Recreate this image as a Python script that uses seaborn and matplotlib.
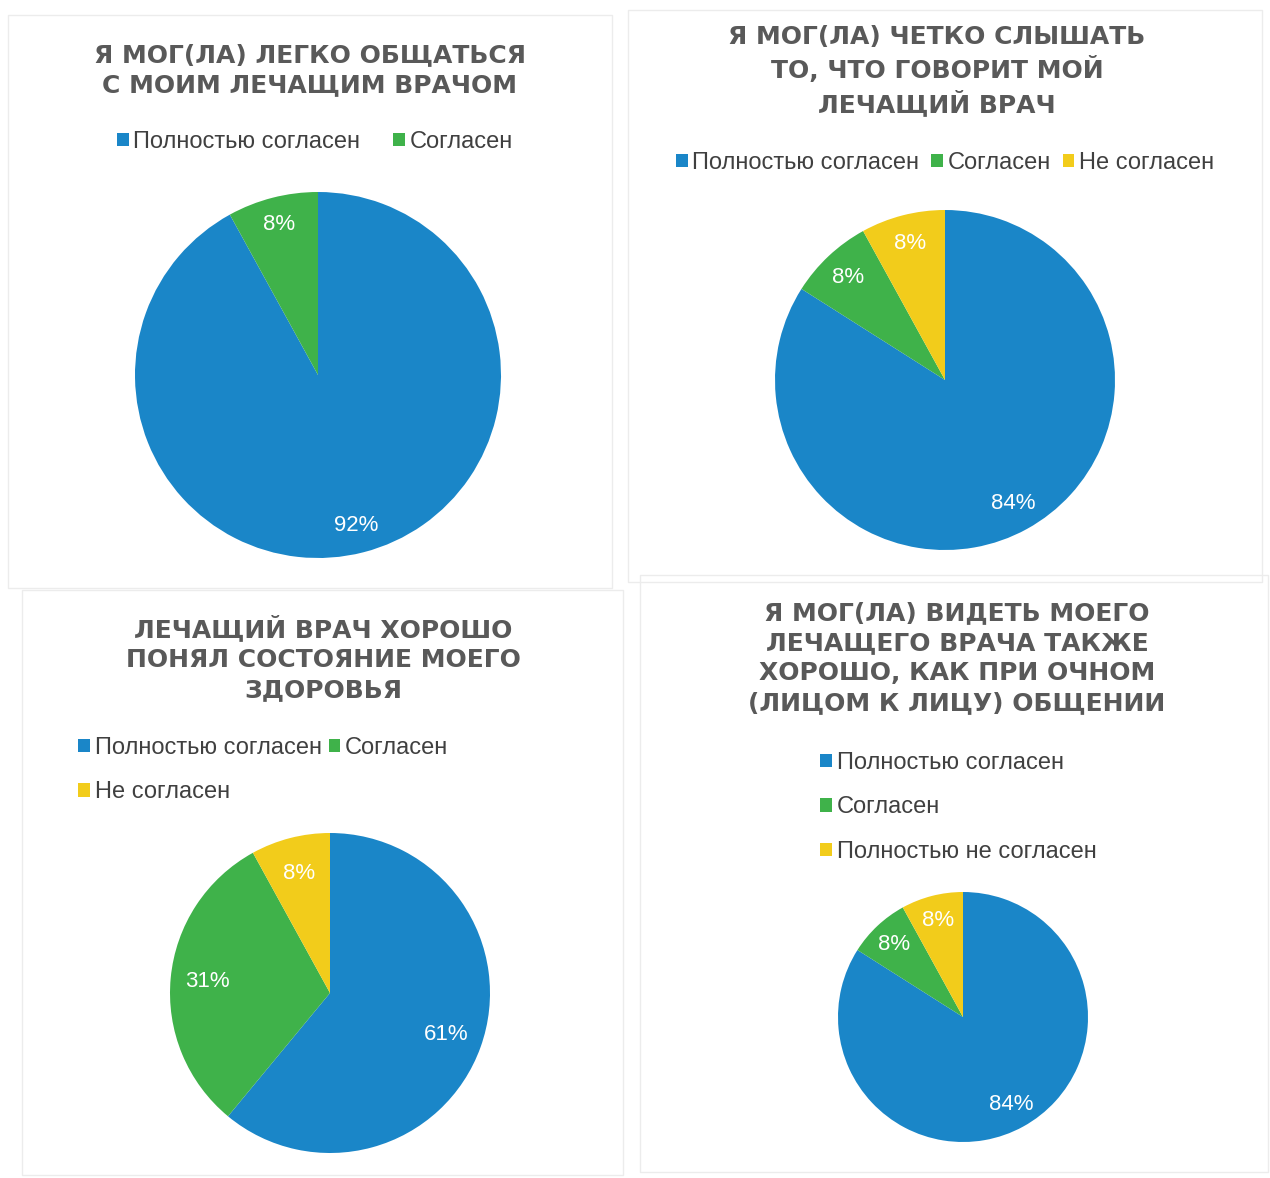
import matplotlib
matplotlib.use("Agg")
import matplotlib.pyplot as plt
from matplotlib.patches import Rectangle, Patch
import seaborn as sns

sns.set_theme(style="white")
plt.rcParams['font.family'] = ['Liberation Sans', 'DejaVu Sans']

# ---- data ----
titles = [
    "Я МОГ(ЛА) ЛЕГКО ОБЩАТЬСЯ\nС МОИМ ЛЕЧАЩИМ ВРАЧОМ",
    "Я МОГ(ЛА) ЧЕТКО СЛЫШАТЬ\nТО, ЧТО ГОВОРИТ МОЙ\nЛЕЧАЩИЙ ВРАЧ",
    "ЛЕЧАЩИЙ ВРАЧ ХОРОШО\nПОНЯЛ СОСТОЯНИЕ МОЕГО\nЗДОРОВЬЯ",
    "Я МОГ(ЛА) ВИДЕТЬ МОЕГО\nЛЕЧАЩЕГО ВРАЧА ТАКЖЕ\nХОРОШО, КАК ПРИ ОЧНОМ\n(ЛИЦОМ К ЛИЦУ) ОБЩЕНИИ",
]
labels1 = ["Полностью согласен", "Согласен"]
values1 = [92, 8]
labels2 = ["Полностью согласен", "Согласен", "Не согласен"]
values2 = [84, 8, 8]
labels3 = ["Полностью согласен", "Согласен", "Не согласен"]
values3 = [61, 31, 8]
labels4 = ["Полностью согласен", "Согласен", "Полностью не согласен"]
values4 = [84, 8, 8]

palette = ["#1a86c8", "#3fb24a", "#f2cc1b"]

W, H = 1270, 1178
fig = plt.figure(figsize=(W / 100, H / 100), dpi=100)
fig.patch.set_facecolor("white")


def fx(x):
    return x / W


def fy(y):
    return 1 - y / H


# panel frames (x0, y0, x1, y1) in pixels
frames = [(8, 15, 612, 588), (628, 10, 1262, 582), (22, 590, 623, 1175), (640, 575, 1268, 1172)]
for x0, y0, x1, y1 in frames:
    fig.add_artist(Rectangle((fx(x0), fy(y1)), fx(x1) - fx(x0), fy(y0) - fy(y1),
                             transform=fig.transFigure, fill=False,
                             edgecolor="#ececec", linewidth=1.0))

# pie geometry (cx, cy, r) in pixels and label distance
pies = [
    (318, 375, 183, 0.85),
    (945, 380, 170, 0.83),
    (330, 993, 160, 0.77),
    (963, 1017, 125, 0.80),
]
title_pos = [(310, 70), (937, 71), (323, 659), (957, 658)]
all_values = [values1, values2, values3, values4]
all_labels = [labels1, labels2, labels3, labels4]

title_color = "#595959"
text_color = "#404040"

for i in range(4):
    cx, cy, r, pd_ = pies[i]
    ax = fig.add_axes([fx(cx - r), fy(cy + r), 2 * r / W, 2 * r / H])
    vals = all_values[i]
    cols = palette[:len(vals)]
    wedges, texts, autotexts = ax.pie(
        vals, colors=cols, startangle=90, counterclock=False,
        autopct=lambda p: f"{p:.0f}%", pctdistance=pd_, radius=1,
        wedgeprops=dict(linewidth=0),
        textprops=dict(color="white", fontsize=16))
    ax.set_xlim(-1, 1)
    ax.set_ylim(-1, 1)
    ax.set_aspect("equal")
    ax.axis("off")

    tx, ty = title_pos[i]
    fig.text(fx(tx), fy(ty), titles[i], ha="center", va="center",
             fontsize=18, fontweight="bold", color=title_color, linespacing=1.32,
             family=["DejaVu Sans"])

# legends
def handles_for(labels):
    return [Patch(facecolor=palette[k], edgecolor="none", label=labels[k]) for k in range(len(labels))]

leg_kw = dict(frameon=False, fontsize=17, handlelength=0.5, handleheight=0.5,
              handletextpad=0.2, labelcolor=text_color, borderpad=0, borderaxespad=0)

h1 = handles_for(labels1)
fig.legend(handles=h1, loc="center", bbox_to_anchor=(fx(315), fy(142)), ncol=2,
           columnspacing=1.4, **leg_kw)

h2 = handles_for(labels2)
fig.legend(handles=h2, loc="center", bbox_to_anchor=(fx(945), fy(163)), ncol=3,
           columnspacing=0.5, **leg_kw)

h3 = handles_for(labels3)
fig.legend(handles=[h3[0], h3[2], h3[1]], loc="upper left", bbox_to_anchor=(fx(78), fy(737)),
           ncol=2, columnspacing=0.3, labelspacing=0.95, **leg_kw)

h4 = handles_for(labels4)
fig.legend(handles=h4, loc="upper left", bbox_to_anchor=(fx(820), fy(752)), ncol=1,
           labelspacing=0.95, **leg_kw)

fig.savefig("out.png", dpi=100, facecolor="white")
